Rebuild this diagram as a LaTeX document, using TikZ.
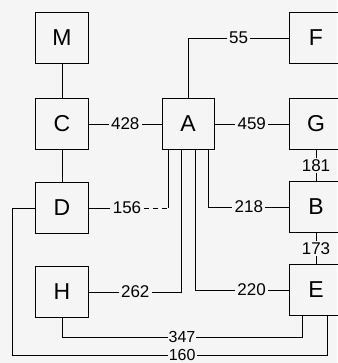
\documentclass[tikz,border=0pt]{standalone}
\usepackage{fontspec}
\setmainfont{Liberation Sans}
\usetikzlibrary{calc}
\definecolor{paper}{gray}{0.96}

\begin{document}
\begin{tikzpicture}[
    x=1pt, y=-1pt, line width=0.9pt,
    box/.style={draw, minimum width=53pt, minimum height=51pt, inner sep=0pt,
        font=\fontsize{23}{23}\selectfont}, % Style for the lettered blocks
    lbl/.style={fill=paper, inner sep=2.5pt, font=\fontsize{17}{17}\selectfont}, % Style for link values
    lowlbl/.style={lbl, inner sep=1pt, text depth=0pt, font=\fontsize{16}{16}\selectfont} % Values on the bottom runs
]

% Paper and page size
\fill[paper] (0,0) rectangle (337,363);
\useasboundingbox (0,0) rectangle (337,363);

% Left column
\node[box] (M) at (62,38)  {M};
\node[box] (C) at (62,124) {C};
\node[box] (D) at (62,208) {D};
\node[box] (H) at (62,292) {H};

% Right column (cut by the page edge)
\node[box] (F) at (316,38)  {F};
\node[box] (G) at (316,124) {G};
\node[box] (B) at (316,207) {B};
\node[box] (E) at (316,290) {E};

% Centre block
\node[box, minimum width=52pt] (A) at (188,124) {A};

% Ports under A and E
\coordinate (a1) at ($(A.south west)+(7,0)$);
\coordinate (a2) at ($(A.south west)+(20,0)$);
\coordinate (a3) at ($(A.south west)+(34,0)$);
\coordinate (a4) at ($(A.south west)+(47,0)$);
\coordinate (e1) at ($(E.south west)+(13,0)$);
\coordinate (e2) at ($(E.south west)+(38,0)$);

% Straight links
\draw (M) -- (C);
\draw (C) -- (D);
\draw (C) -- node[lbl] {428} (A);
\draw (A) -- node[lbl] {459} (G);
\draw (G) -- node[lbl, inner sep=1pt] {181} (B);
\draw (B) -- node[lbl, inner sep=1pt] {173} (E);

% Links leaving A
\draw (A.north) |- node[lbl, pos=0.75] {55} (F);
\draw (a4) |- node[lbl, pos=0.75] {218} (B);
\draw (a3) |- node[lbl, pos=0.8] {220} (E);
\draw (H) -| node[lbl, pos=0.25] {262} (a2);

% D to A, partly dashed
\node[lbl] (n156) at (127,208) {156};
\coordinate (k156) at (a1 |- D);
\draw (D) -- (n156);
\draw[dash pattern=on 5pt off 4pt] (n156) -- (k156);
\draw (k156) -- (a1);

% Long links round the bottom
\coordinate (k347) at ($(H.south)+(0,19)$);
\draw (H.south) -- (k347) -| node[lowlbl, pos=0.25] {347} (e1);
\coordinate (k160) at ($(D.west)+(-23,0)$);
\draw (D.west) -- (k160) |- node[lowlbl, pos=0.77] {160} ($(e2)+(0,39)$) -- (e2);

\end{tikzpicture}
\end{document}
